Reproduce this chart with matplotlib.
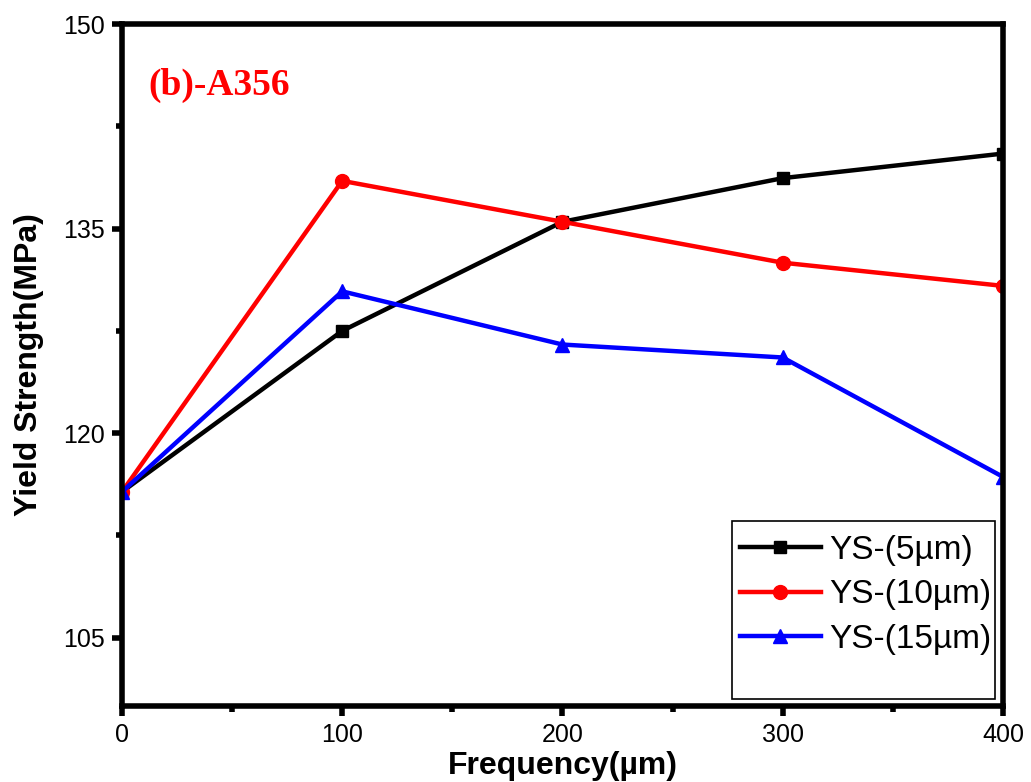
import matplotlib.pyplot as plt
from matplotlib.ticker import MultipleLocator
from matplotlib.patches import Rectangle

# Data
frequency = [0, 100, 200, 300, 400]
ys_5um = [115.7, 127.5, 135.5, 138.7, 140.5]
ys_10um = [115.7, 138.5, 135.5, 132.5, 130.8]
ys_15um = [115.7, 130.4, 126.5, 125.55, 116.8]

plt.rcParams['font.family'] = ['Liberation Sans', 'DejaVu Sans']

fig = plt.figure(figsize=(10.31, 7.82), dpi=100)
ax = fig.add_axes([0.1183, 0.0972, 0.8545, 0.8721])

ax.plot(frequency, ys_5um, color='black', lw=3.2, marker='s', ms=9, label='YS-(5µm)')
ax.plot(frequency, ys_10um, color='red', lw=3.2, marker='o', ms=10, label='YS-(10µm)')
ax.plot(frequency, ys_15um, color='blue', lw=3.2, marker='^', ms=10, label='YS-(15µm)')

ax.set_xlim(0, 400)
ax.set_ylim(100, 150)
ax.xaxis.set_major_locator(MultipleLocator(100))
ax.xaxis.set_minor_locator(MultipleLocator(50))
ax.set_yticks([105, 120, 135, 150])
ax.yaxis.set_minor_locator(MultipleLocator(7.5))

for s in ax.spines.values():
    s.set_linewidth(4)
ax.tick_params(which='major', direction='out', length=7, width=4, labelsize=18, pad=5)
ax.tick_params(which='minor', direction='out', length=4, width=4)

ax.set_xlabel('Frequency(µm)', fontsize=23, fontweight='bold', labelpad=3)
ax.set_ylabel('Yield Strength(MPa)', fontsize=23, fontweight='bold', labelpad=14)

ax.text(0.0295, 0.896, '(b)-A356', transform=ax.transAxes, color='red', fontsize=27,
        fontweight='bold', family='Liberation Serif', va='baseline')

# legend box (drawn separately, it has extra room at the bottom)
ax.add_patch(Rectangle((0.692, 0.0103), 0.299, 0.261, transform=ax.transAxes, fill=False,
                       edgecolor='black', lw=1.2, zorder=5))
leg = ax.legend(loc='upper left', bbox_to_anchor=(0.686, 0.271), fontsize=24, frameon=False,
                handlelength=2.45, borderpad=0.4, labelspacing=0.41, handletextpad=0.25,
                borderaxespad=0)

fig.savefig('out.png', dpi=100)
